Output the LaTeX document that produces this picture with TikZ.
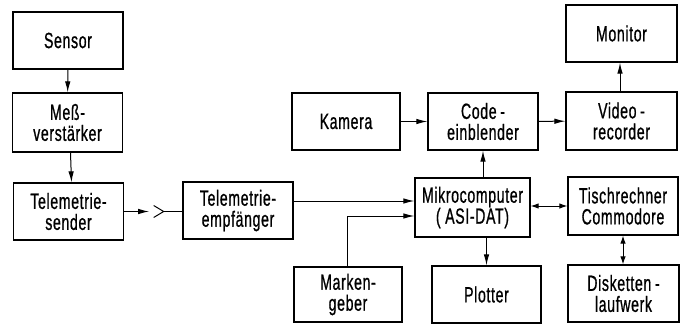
\documentclass[tikz,border=0pt]{standalone}
\usepackage{fontspec}
\setmainfont{Liberation Sans}[FakeStretch=0.64,FakeBold=0.8,LetterSpace=3]
\usetikzlibrary{arrows.meta,calc}
\begin{document}
\begin{tikzpicture}[x=1pt,y=-1pt,
  box/.style={draw,line width=1.3pt,minimum width=110pt,minimum height=57pt,
    align=center,inner sep=0pt,font=\fontsize{22}{21}\selectfont},
  conn/.style={line width=1pt},
  arr/.style={conn,-{Latex[length=11pt,width=5.5pt]}},
  darr/.style={conn,{Latex[length=8pt,width=5.5pt]}-{Latex[length=8pt,width=5.5pt]}}]
\useasboundingbox (0,0) rectangle (686,324);

% measurement chain
\node[box] (sensor) at (68,40.5) {Sensor};
\node[box,minimum height=59pt] (mess) at (67.5,122.5) {Meß-\\verstärker};
\node[box] (sender) at (68.5,211.5) {Telemetrie-\\sender};
\node[box] (empf) at (238,210.5) {Telemetrie-\\empfänger};

% video path
\node[box,minimum width=108pt] (kamera) at (346,121.5) {Kamera};
\node[box] (code) at (483,121.5) {Code\,-\\einblender};
\node[box,minimum width=111pt,minimum height=58pt] (video) at (621.5,121) {Video\,-\\recorder};
\node[box,minimum width=111pt] (monitor) at (621.5,33.5) {Monitor};

% computers and peripherals
\node[box,minimum width=115pt,minimum height=59pt] (mikro) at (472.5,207.5) {Mikrocomputer\\( ASI-DAT)};
\node[box,minimum height=58pt] (tisch) at (623,206) {Tischrechner\\Commodore};
\node[box,minimum width=108pt,minimum height=55pt] (marken) at (348,294.5) {Marken-\\geber};
\node[box,minimum width=109pt] (plotter) at (486.5,294.5) {Plotter};
\node[box,minimum width=111pt] (disk) at (623.5,293.5) {Disketten\,-\\laufwerk};

% radio link with antenna symbol
\coordinate (tx) at ($(sender.east)+(25,0)$);
\coordinate (ant) at ($(sender.east)+(39.5,0)$);
\draw[arr] (sender.east) -- (tx);
\draw[conn] ($(ant)+(-10,-6)$) -- (ant) -- ($(ant)+(-10,6)$);
\draw[conn] (ant) -- (empf.west |- ant);

% inputs of the microcomputer
\coordinate (m1) at ($(mikro.west)+(0,-6.5)$);
\coordinate (m2) at ($(mikro.west)+(0,8.5)$);
\draw[arr] (empf.east |- m1) -- (m1);
\draw[arr] ([xshift=-1pt]marken.north) |- (m2);

% video signal path
\draw[arr] (kamera) -- (code);
\draw[arr] (code) -- (video);
\draw[arr] (mikro.north -| code.south) -- (code.south);
\draw[arr] ([xshift=-1.5pt]video.north) -- ([xshift=-1.5pt]monitor.south);

% data paths
\draw[darr] (mikro.east |- tisch) -- (tisch.west);
\draw[arr] (mikro.south -| plotter.north) -- (plotter.north);
\draw[darr] (tisch.south) -- (tisch.south |- disk.north);
\draw[arr] (sensor) -- (mess);
\draw[arr] ([xshift=3pt]mess.south) -- ([xshift=3pt]sender.north);
\end{tikzpicture}
\end{document}
